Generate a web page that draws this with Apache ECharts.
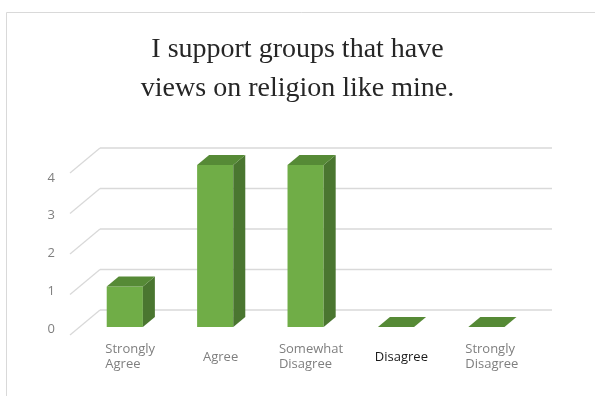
<!DOCTYPE html>
<html>
<head>
<meta charset="utf-8">
<script src="https://cdn.jsdelivr.net/npm/echarts@6/dist/echarts.min.js"></script>
<style>
  html, body { margin: 0; padding: 0; background: #fff; }
  #chart { width: 595px; height: 396px; }
</style>
</head>
<body>
<div id="chart"></div>
<script>
// Survey answers
const categories = ['Strongly\nAgree', 'Agree', 'Somewhat\nDisagree', 'Disagree', 'Strongly\nDisagree'];
const responses = [1, 4, 4, 0, 0];
const valueTicks = ['0', '1', '2', '3', '4'];
const titleLines = ['I support groups that have', 'views on religion like mine.'];

// Oblique depth of the floor and where the columns sit within it
const DEPTH = [30, -25];
const BAR_FRONT = 0.32;
const BAR_BACK = 0.72;
const BAR_WIDTH = 0.4; // share of a category band

const GRID_COLOR = '#d9d9d9';
const FRONT_COLOR = '#70ad47';
const TOP_COLOR = '#568a36';
const SIDE_COLOR = '#4a7630';

// Side wall and back wall gridlines for one value level
function renderWalls(params, api) {
  const cs = params.coordSys;
  const y = api.coord([0, api.value(1)])[1];
  const x0 = cs.x;
  const x1 = cs.x + cs.width;
  const style = { stroke: GRID_COLOR, lineWidth: 1.3 };
  return {
    type: 'group',
    children: [
      { type: 'line', shape: { x1: x0, y1: y, x2: x0 + DEPTH[0], y2: y + DEPTH[1] }, style },
      { type: 'line', shape: { x1: x0 + DEPTH[0], y1: y + DEPTH[1], x2: x1 + DEPTH[0], y2: y + DEPTH[1] }, style }
    ]
  };
}

// One 3D column: front face, right side, top
function renderColumn(params, api) {
  const i = api.value(0);
  const v = api.value(1);
  const base = api.coord([i, 0]);
  const top = api.coord([i, v]);
  const w = api.size([1, 0])[0] * BAR_WIDTH;
  const ox = DEPTH[0] * BAR_FRONT;
  const oy = DEPTH[1] * BAR_FRONT;
  const dx = DEPTH[0] * (BAR_BACK - BAR_FRONT);
  const dy = DEPTH[1] * (BAR_BACK - BAR_FRONT);
  const L = base[0] - w / 2 + ox;
  const R = L + w;
  const yB = base[1] + oy;
  const yT = top[1] + oy;
  const children = [];
  if (yB - yT > 0.5) {
    children.push({ type: 'rect', shape: { x: L, y: yT, width: w, height: yB - yT }, style: { fill: FRONT_COLOR } });
    children.push({ type: 'polygon', shape: { points: [[R, yB], [R, yT], [R + dx, yT + dy], [R + dx, yB + dy]] }, style: { fill: SIDE_COLOR } });
  }
  children.push({ type: 'polygon', shape: { points: [[L, yT], [R, yT], [R + dx, yT + dy], [L + dx, yT + dy]] }, style: { fill: TOP_COLOR } });
  return { type: 'group', children };
}

const chart = echarts.init(document.getElementById('chart'), null, { renderer: 'canvas' });

chart.setOption({
  backgroundColor: '#fff',
  animation: false,
  title: {
    text: titleLines.join('\n'),
    left: 'center',
    top: 25,
    padding: [5, 5, 5, 10],
    textStyle: {
      fontFamily: '"Liberation Serif", "Times New Roman", serif',
      fontSize: 28,
      fontWeight: 'normal',
      color: '#262626',
      lineHeight: 39
    }
  },
  graphic: [{
    type: 'rect',
    silent: true,
    shape: { x: 6.5, y: 12.5, width: 640, height: 440 },
    style: { fill: 'none', stroke: '#d9d9d9', lineWidth: 1 }
  }],
  grid: [
    { left: 70, right: 73, top: 173, bottom: 61 },
    { left: 60, width: 10, top: 178, bottom: 67 }
  ],
  xAxis: [{
    type: 'category',
    gridIndex: 0,
    data: categories,
    boundaryGap: true,
    axisLine: { show: false },
    axisTick: { show: false },
    axisLabel: {
      interval: 0,
      margin: 22,
      verticalAlign: 'middle',
      padding: [0, 0, 0, 30],
      formatter: (val, idx) => val.split('\n').map(s => '{' + (idx === 3 ? 'd' : 'g') + '|' + s + '}').join('\n'),
      rich: {
        g: { fontFamily: '"Open Sans", sans-serif', fontSize: 13, lineHeight: 15, color: '#7f7f7f', align: 'left' },
        d: { fontFamily: '"Open Sans", sans-serif', fontSize: 13, lineHeight: 15, color: '#1a1a1a', align: 'left' }
      }
    }
  }, {
    type: 'value',
    gridIndex: 1,
    show: false
  }],
  yAxis: [{
    type: 'value',
    gridIndex: 0,
    min: 0,
    max: 4,
    interval: 1,
    show: false
  }, {
    type: 'category',
    gridIndex: 1,
    data: valueTicks,
    boundaryGap: false,
    axisLine: { show: false },
    axisTick: { show: false },
    splitLine: { show: false },
    axisLabel: {
      margin: 5,
      fontFamily: '"Open Sans", sans-serif',
      fontSize: 13,
      color: '#7f7f7f'
    }
  }],
  series: [{
    type: 'custom',
    xAxisIndex: 0,
    yAxisIndex: 0,
    silent: true,
    z: 1,
    renderItem: renderWalls,
    data: valueTicks.map(t => [0, Number(t)])
  }, {
    type: 'custom',
    name: 'Responses',
    xAxisIndex: 0,
    yAxisIndex: 0,
    z: 2,
    renderItem: renderColumn,
    data: responses.map((v, i) => [i, v])
  }]
});
</script>
</body>
</html>
